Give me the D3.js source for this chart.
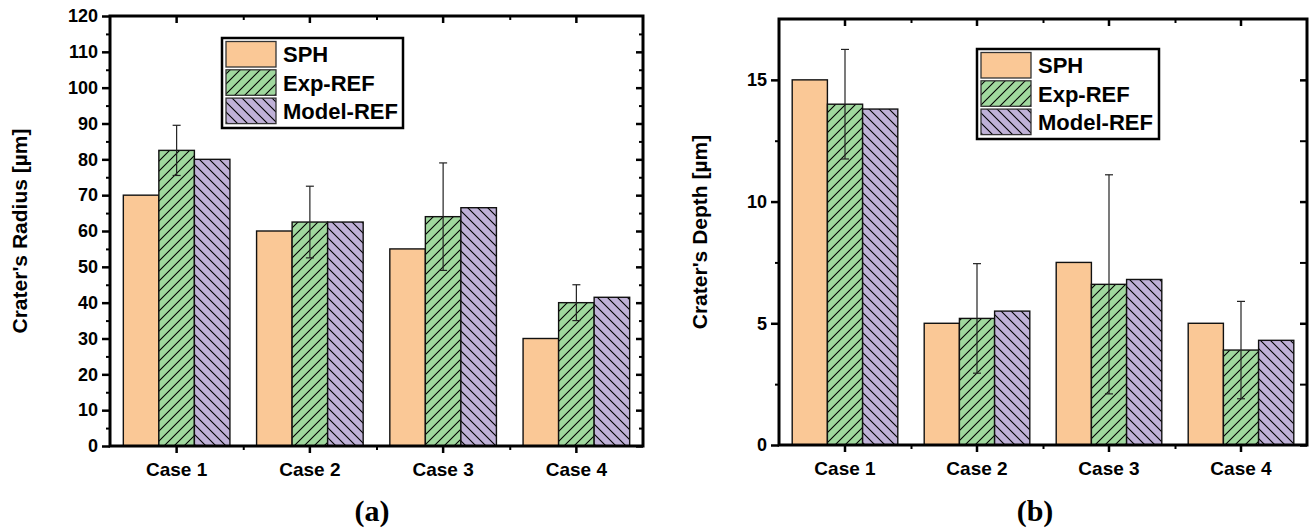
<!DOCTYPE html>
<html>
<head>
<meta charset="utf-8">
<script src="https://cdn.jsdelivr.net/npm/d3@7"></script>
<style>
  body { margin: 0; background: #fff; }
</style>
</head>
<body>
<div id="chart"></div>
<script>
// data
var cases = ["Case 1", "Case 2", "Case 3", "Case 4"];
var seriesNames = ["SPH", "Exp-REF", "Model-REF"];

var radiusSPH = [70, 60, 55, 30];
var radiusExp = [82.5, 62.5, 64, 40];
var radiusExpErr = [7, 10, 15, 5];
var radiusModel = [80, 62.5, 66.5, 41.5];
var radiusTicks = [0, 10, 20, 30, 40, 50, 60, 70, 80, 90, 100, 110, 120];
var radiusMinor = [5, 15, 25, 35, 45, 55, 65, 75, 85, 95, 105, 115];

var depthSPH = [15, 5, 7.5, 5];
var depthExp = [14, 5.2, 6.6, 3.9];
var depthExpErr = [2.25, 2.25, 4.5, 2];
var depthModel = [13.8, 5.5, 6.8, 4.3];
var depthTicks = [0, 5, 10, 15];
var depthMinor = [2.5, 7.5, 12.5, 17.5];

var fills = {"SPH": "#fac896", "Exp-REF": "#a0d89e", "Model-REF": "#bfb1d7"};
var sans = "'Liberation Sans', Arial, sans-serif";

var svg = d3.select("#chart")
  .append("svg")
    .attr("width", 1310)
    .attr("height", 532);

// hatch patterns
var defs = svg.append("defs");
function hatch(id, color, path, size) {
  var p = defs.append("pattern")
    .attr("id", id)
    .attr("patternUnits", "userSpaceOnUse")
    .attr("width", size).attr("height", size);
  p.append("rect").attr("width", size).attr("height", size).attr("fill", color);
  p.append("path").attr("d", path)
    .attr("stroke", "#000").attr("stroke-width", 1.1).attr("fill", "none");
}
hatch("fwd", fills["Exp-REF"], "M0,10 L10,0 M-2,2 L2,-2 M8,12 L12,8", 10);
hatch("back", fills["Model-REF"], "M0,0 L10,10 M-2,8 L2,12 M8,-2 L12,2", 10);

var paint = {"SPH": fills["SPH"], "Exp-REF": "url(#fwd)", "Model-REF": "url(#back)"};

function boldText(sel, size) {
  sel.style("font-family", sans).style("font-weight", "bold")
    .attr("font-size", size).attr("fill", "#000");
}

function drawPanel(o) {
  var g = svg.append("g");

  var x = d3.scaleBand().domain(cases).range([o.left, o.right]);
  var bw = x.bandwidth();
  var xs = d3.scaleBand().domain(seriesNames).range([bw * 0.1, bw * 0.9]);
  var y = d3.scaleLinear().domain([0, o.ymax]).range([o.bottom, o.top]);

  var rows = cases.map(function (c, i) {
    return {c: c, "SPH": o.sph[i], "Exp-REF": o.exp[i], "Model-REF": o.model[i], err: o.err[i]};
  });

  // bars
  seriesNames.forEach(function (s) {
    g.selectAll(null)
      .data(rows)
      .enter().append("rect")
        .attr("x", function (d) { return x(d.c) + xs(s); })
        .attr("y", function (d) { return y(d[s]); })
        .attr("width", xs.bandwidth())
        .attr("height", function (d) { return y(0) - y(d[s]); })
        .attr("fill", paint[s])
        .attr("stroke", "#111")
        .attr("stroke-width", 1.4);
  });

  // error bars on Exp-REF
  var eb = g.selectAll(null).data(rows).enter().append("g")
    .attr("stroke", "#222").attr("stroke-width", 1.2);
  var cx = function (d) { return x(d.c) + xs("Exp-REF") + xs.bandwidth() / 2; };
  eb.append("line")
    .attr("x1", cx).attr("x2", cx)
    .attr("y1", function (d) { return y(d["Exp-REF"] + d.err); })
    .attr("y2", function (d) { return y(d["Exp-REF"] - d.err); });
  eb.append("line")
    .attr("x1", function (d) { return cx(d) - 4; }).attr("x2", function (d) { return cx(d) + 4; })
    .attr("y1", function (d) { return y(d["Exp-REF"] + d.err); })
    .attr("y2", function (d) { return y(d["Exp-REF"] + d.err); });
  eb.append("line")
    .attr("x1", function (d) { return cx(d) - 4; }).attr("x2", function (d) { return cx(d) + 4; })
    .attr("y1", function (d) { return y(d["Exp-REF"] - d.err); })
    .attr("y2", function (d) { return y(d["Exp-REF"] - d.err); });

  // axes
  var xm = d3.scaleLinear().domain([0, 4]).range([o.left, o.right]);
  var bounds = [1, 2, 3];
  var inside = function (v) { return v < o.ymax; };

  function styleAxis(a, w) {
    a.select(".domain").remove();
    a.selectAll("line").attr("stroke", "#000").attr("stroke-width", w);
  }

  var yl = g.append("g").attr("transform", "translate(" + o.left + ",0)")
    .call(d3.axisLeft(y).tickValues(o.ticks).tickSize(8).tickPadding(4).tickFormat(d3.format("d")));
  styleAxis(yl, 2.5);
  boldText(yl.selectAll("text"), 18);
  var ylm = g.append("g").attr("transform", "translate(" + o.left + ",0)")
    .call(d3.axisLeft(y).tickValues(o.minor.filter(inside)).tickSize(4).tickFormat(""));
  styleAxis(ylm, 2);

  var yr = g.append("g").attr("transform", "translate(" + o.right + ",0)")
    .call(d3.axisRight(y).tickValues(o.ticks.filter(inside)).tickSize(-7).tickFormat(""));
  styleAxis(yr, 2.5);
  var yrm = g.append("g").attr("transform", "translate(" + o.right + ",0)")
    .call(d3.axisRight(y).tickValues(o.minor.filter(inside)).tickSize(-o.rightMinor).tickFormat(""));
  styleAxis(yrm, 2);

  var xb = g.append("g").attr("transform", "translate(0," + o.bottom + ")")
    .call(d3.axisBottom(x).tickSize(7).tickPadding(10));
  styleAxis(xb, 2.5);
  boldText(xb.selectAll("text"), 19);
  var xbm = g.append("g").attr("transform", "translate(0," + o.bottom + ")")
    .call(d3.axisBottom(xm).tickValues(bounds).tickSize(4).tickFormat(""));
  styleAxis(xbm, 2);

  var xt = g.append("g").attr("transform", "translate(0," + o.top + ")")
    .call(d3.axisTop(x).tickSize(-7).tickFormat(""));
  styleAxis(xt, 2.5);
  var xtm = g.append("g").attr("transform", "translate(0," + o.top + ")")
    .call(d3.axisTop(xm).tickValues(bounds).tickSize(-4).tickFormat(""));
  styleAxis(xtm, 2);

  // frame
  g.append("rect")
    .attr("x", o.left).attr("y", o.top)
    .attr("width", o.right - o.left).attr("height", o.bottom - o.top)
    .attr("fill", "none").attr("stroke", "#000").attr("stroke-width", 3);

  // y title
  var t = g.append("text")
    .attr("transform", "translate(" + o.titleX + "," + (o.top + o.bottom) / 2 + ") rotate(-90)")
    .attr("text-anchor", "middle")
    .attr("dy", "0.35em")
    .text(o.title);
  boldText(t, 21);

  // legend
  var lg = g.append("g").attr("transform", "translate(" + o.legX + "," + o.legY + ")");
  lg.append("rect")
    .attr("x", 0).attr("y", 0).attr("width", o.legW).attr("height", 90)
    .attr("fill", "#fff").attr("stroke", "#000").attr("stroke-width", 2.5);
  seriesNames.forEach(function (s, i) {
    lg.append("rect")
      .attr("x", 4).attr("y", 3.5 + i * 28.3)
      .attr("width", 50).attr("height", 25.5)
      .attr("fill", paint[s]).attr("stroke", "#333").attr("stroke-width", 1.3);
    var lt = lg.append("text")
      .attr("x", 61).attr("y", 16.5 + i * 28.3)
      .attr("dy", "0.36em")
      .text(s);
    boldText(lt, 22);
  });

  // caption
  svg.append("text")
    .attr("x", o.capX).attr("y", 521)
    .attr("text-anchor", "middle")
    .style("font-family", "'Liberation Serif', 'Times New Roman', serif")
    .style("font-weight", "bold")
    .attr("font-size", 30)
    .text(o.caption);
}

drawPanel({
  left: 110, right: 643, top: 16, bottom: 446, ymax: 120,
  sph: radiusSPH, exp: radiusExp, err: radiusExpErr, model: radiusModel,
  ticks: radiusTicks, minor: radiusMinor, rightMinor: 4,
  title: "Crater's Radius [\u00b5m]", titleX: 20,
  legX: 222, legY: 38, legW: 181,
  caption: "(a)", capX: 372
});

drawPanel({
  left: 779, right: 1307, top: 19, bottom: 445, ymax: 17.5,
  sph: depthSPH, exp: depthExp, err: depthExpErr, model: depthModel,
  ticks: depthTicks, minor: depthMinor, rightMinor: 7,
  title: "Crater's Depth [\u00b5m]", titleX: 700,
  legX: 977, legY: 49, legW: 182,
  caption: "(b)", capX: 1035
});
</script>
</body>
</html>
